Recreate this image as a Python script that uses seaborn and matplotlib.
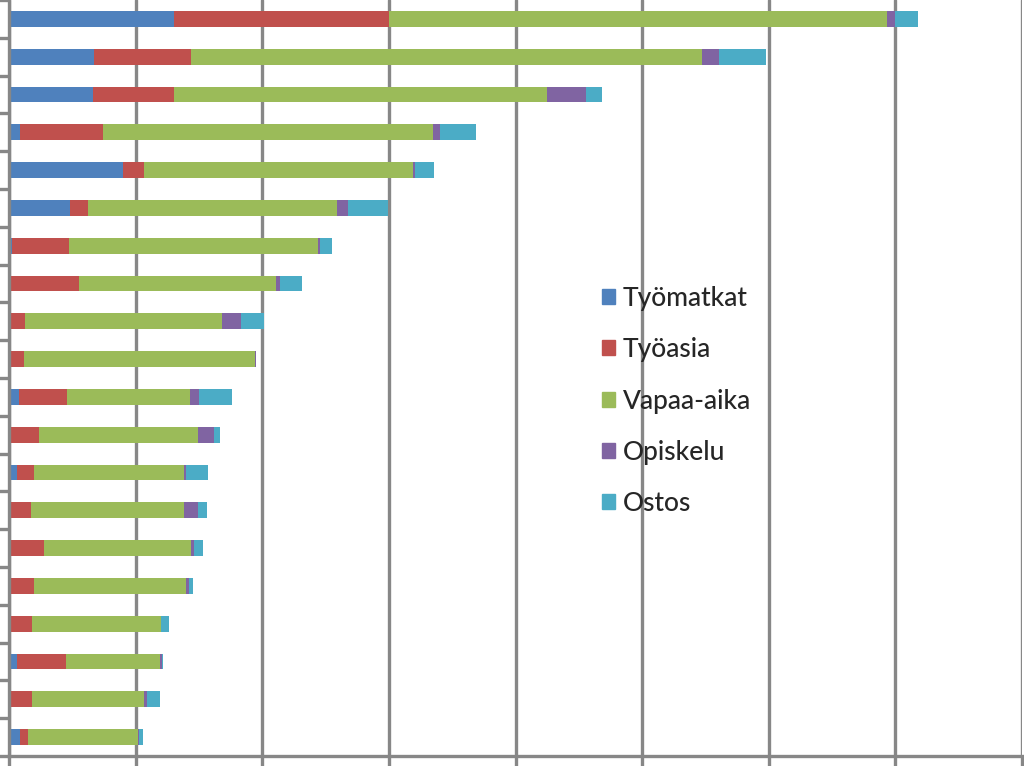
import numpy as np
import pandas as pd
import matplotlib
matplotlib.use("Agg")
import matplotlib.pyplot as plt
import matplotlib.patches as mpatches
import seaborn as sns

# bar order top -> bottom, values in gridline units
rivit = [f"R{i+1}" for i in range(20)]
tyomatkat = [1.30, 0.67, 0.66, 0.09, 0.90, 0.48, 0.02, 0.01, 0.00, 0.00,
             0.08, 0.00, 0.06, 0.00, 0.00, 0.00, 0.00, 0.06, 0.00, 0.09]
tyoasia = [1.70, 0.77, 0.64, 0.65, 0.17, 0.14, 0.45, 0.54, 0.13, 0.12,
           0.38, 0.24, 0.14, 0.17, 0.28, 0.20, 0.18, 0.39, 0.18, 0.06]
vapaa_aika = [3.93, 4.03, 2.95, 2.61, 2.12, 1.97, 1.97, 1.56, 1.55, 1.82,
              0.97, 1.25, 1.18, 1.21, 1.16, 1.20, 1.02, 0.74, 0.89, 0.87]
opiskelu = [0.07, 0.14, 0.31, 0.05, 0.02, 0.09, 0.02, 0.03, 0.15, 0.01,
            0.07, 0.13, 0.02, 0.11, 0.02, 0.02, 0.00, 0.02, 0.02, 0.01]
ostos = [0.18, 0.37, 0.12, 0.29, 0.15, 0.31, 0.09, 0.17, 0.18, 0.00,
         0.26, 0.05, 0.17, 0.07, 0.07, 0.03, 0.06, 0.01, 0.10, 0.03]

sarjat = ["Työmatkat", "Työasia", "Vapaa-aika", "Opiskelu", "Ostos"]
varit = ["#4F81BD", "#C0504D", "#9BBB59", "#8064A2", "#4BACC6"]

df = pd.DataFrame({"rivi": rivit, "Työmatkat": tyomatkat, "Työasia": tyoasia,
                   "Vapaa-aika": vapaa_aika, "Opiskelu": opiskelu, "Ostos": ostos})
kum = df[sarjat].cumsum(axis=1)

sns.set_theme(style="white")
plt.rcParams["font.family"] = ["Lato", "DejaVu Sans"]

fig = plt.figure(figsize=(10.24, 7.66), dpi=100)
ax = fig.add_axes([9 / 1024, 10 / 766, 1013 / 1024, 756 / 766])

harmaa = "#878787"
# gridlines behind bars
ax.set_axisbelow(True)
ax.grid(axis="x", color=harmaa, linewidth=2.4)
ax.grid(axis="y", visible=False)

# stacked: draw cumulative totals from the largest down
for sarja, vari in reversed(list(zip(sarjat, varit))):
    sns.barplot(x=kum[sarja], y=df["rivi"], color=vari, orient="h",
                width=0.42, ax=ax, saturation=1, edgecolor="none")

ax.set_xlim(0, 8)
ax.set_ylim(19.5, -0.5)
ax.set_xticks(np.arange(0, 9, 1))
ax.set_xticklabels([])
ax.set_yticks(np.arange(-0.5, 20, 1))
ax.set_yticklabels([])
ax.set_xlabel("")
ax.set_ylabel("")
ax.tick_params(axis="x", direction="out", length=9, width=2.4, color=harmaa, bottom=True)
ax.tick_params(axis="y", direction="out", length=9, width=2.4, color=harmaa, left=True)

for s in ["top", "right"]:
    ax.spines[s].set_visible(False)
for s in ["left", "bottom"]:
    ax.spines[s].set_color(harmaa)
    ax.spines[s].set_linewidth(2.4)

kahvat = [mpatches.Patch(color=v, label=s) for s, v in zip(sarjat, varit)]
ax.legend(handles=kahvat, loc="upper left", bbox_to_anchor=(0.575, 0.636),
          frameon=False, handlelength=0.5, handleheight=0.5,
          handletextpad=0.28, labelspacing=1.0, borderaxespad=0,
          prop={"family": ["Lato", "DejaVu Sans"], "size": 19, "weight": "medium"})

fig.savefig("out.png", dpi=100)
